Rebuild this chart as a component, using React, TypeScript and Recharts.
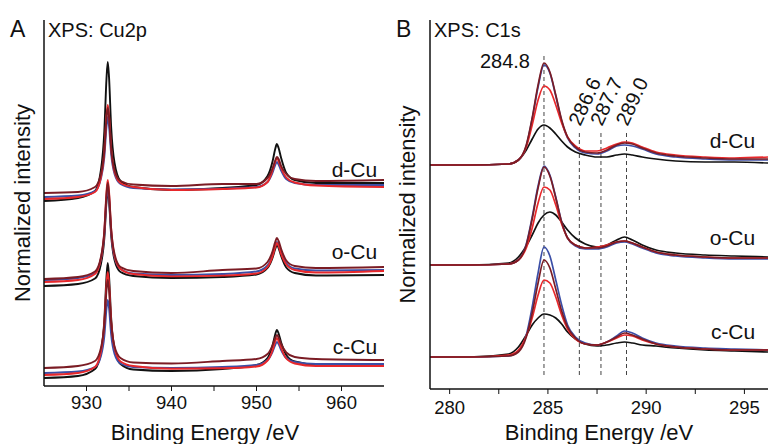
import React from 'react';
import { LineChart, Line, XAxis, YAxis, ReferenceLine, ReferenceDot } from 'recharts';

const FONT = '"Liberation Sans", Arial, Helvetica, sans-serif';
const INK = '#111';

const BLACK = '#111111';
const BLUE = '#3b4ea6';
const RED = '#e8282b';
const MAROON = '#7b1c24';

// ---- panel A: Cu 2p (binding energy in eV, intensity in a.u. with offsets) ----
const cu2pEnergy = [925, 929, 931, 931.7, 932.1, 932.35, 932.5, 932.65, 932.9, 933.3, 934, 935.5, 940, 946, 950, 951.3, 951.9, 952.2, 952.4, 952.6, 952.9, 953.5, 954.5, 957, 965];

const cu2pDBlack = [185, 188, 195, 216, 255, 307, 324, 309, 259, 223, 205, 199, 196, 198, 201, 210, 225, 237, 242, 238, 228, 213, 206, 203, 203];
const cu2pDBlue = [189, 190.5, 195, 207.5, 229, 259, 269, 260, 232, 212, 202, 198, 196.6, 197.4, 199, 204, 213.5, 221, 224, 221.5, 215.5, 207, 203, 201, 201];
const cu2pDRed = [187, 189, 194, 209, 234.5, 270, 281, 271, 238, 214, 203, 199, 196, 197, 198.5, 204, 216, 224, 228, 225, 218, 208.5, 203.5, 200.5, 199];
const cu2pDMaroon = [193, 194, 199, 212, 236, 268, 278, 269, 238, 216, 205, 201.5, 200, 202, 202, 208, 218, 225.5, 229, 227, 220, 212, 207, 205, 206];

const cu2pOBlack = [100, 102, 107.5, 122, 148, 184, 196, 185.5, 151, 126, 114, 110, 108, 109, 111.5, 118, 128.5, 137, 141, 138, 130, 118.5, 113, 110.5, 111];
const cu2pOBlue = [106, 108, 113, 127, 152, 187, 198, 187.5, 154, 129, 117, 112.5, 111, 112, 114.5, 120.5, 131.5, 140, 144, 141, 133.5, 123, 117.5, 115.5, 116];
const cu2pORed = [104, 106, 112, 127.5, 155, 194, 206, 194.5, 157.5, 130, 117, 112, 109.6, 110.4, 112.5, 119, 130, 139, 143, 140, 132, 121.5, 116, 113.5, 115];
const cu2pOMaroon = [107, 109, 114.5, 129, 155, 191, 203, 192, 157, 132, 119, 115, 113, 116, 117.5, 124, 135, 144, 148, 145, 137, 125.5, 120, 118, 119];

const cu2pCBlack = [8, 10, 17, 34, 66, 109, 123, 110, 68, 37, 22, 16.5, 15, 17, 21, 28, 41, 51.5, 56, 52.5, 43.5, 31, 24.5, 21.5, 22];
const cu2pCBlue = [13, 14.5, 19, 30, 50, 77, 86, 78, 51.5, 32, 22.5, 19, 18, 19, 21, 26, 34.5, 41, 44, 42, 36, 28, 24, 22, 22];
const cu2pCRed = [11, 13, 19, 34.5, 63, 101.5, 114, 102.5, 65, 38, 24.5, 20, 17.3, 17.7, 19.5, 25.5, 36, 44.5, 48, 45, 38, 27.5, 22.5, 20, 20];
const cu2pCMaroon = [18, 20, 25, 38, 62, 95.5, 106, 96, 63.5, 39.5, 28, 23.5, 22.5, 25, 27, 32, 41, 48, 51, 48.5, 42, 33.5, 29, 27, 26];

const cu2pTicks = [930, 935, 940, 945, 950, 955, 960];
const cu2pGroups = [
  { name: 'd-Cu', y: 209 },
  { name: 'o-Cu', y: 127 },
  { name: 'c-Cu', y: 32 },
];

// ---- panel B: C 1s ----
const c1sEnergy = [279, 281, 283, 283.5, 283.9, 284.2, 284.5, 284.8, 285.1, 285.4, 285.7, 286.0, 286.4, 286.9, 287.5, 288.0, 288.5, 288.9, 289.3, 289.8, 290.5, 291.5, 293, 294.5, 296.2];

const c1sDBlack = [224, 224, 225, 229, 239, 250, 260, 264, 261, 255, 248, 242, 237, 234, 232, 232, 234, 235, 234, 232, 230, 228, 227, 227, 226];
const c1sDBlue = [224, 224, 225, 229, 243, 270, 302, 324, 316, 293, 268, 251, 241, 236, 235, 238, 243, 244, 243, 240, 235, 232, 230, 229, 229];
const c1sDRed = [224, 224, 225, 229, 242, 264, 289, 303, 299, 284, 266, 252, 243, 238, 238, 241, 245, 247, 246, 242, 237, 234, 232, 231, 232];
const c1sDMaroon = [224, 224, 225, 229, 244, 271, 304, 326, 317, 294, 269, 252, 242, 237, 236, 239, 244, 246, 245, 241, 236, 233, 231, 230, 230];

const c1sOBlack = [124, 124, 126, 132, 143, 154, 166, 174, 177, 174, 167, 159, 151, 145, 142, 144, 149, 152, 149, 144, 139, 136, 134, 133, 132];
const c1sOBlue = [124, 124, 125, 129, 145, 172, 203, 223, 214, 192, 167, 151, 143, 140, 140, 142, 146, 147, 145, 141, 136, 133, 131, 130, 130];
const c1sORed = [124, 124, 125, 129, 141, 161, 186, 202, 199, 184, 165, 151, 144, 141, 142, 144, 147, 148, 146, 142, 137, 134, 132, 131, 131];
const c1sOMaroon = [124, 124, 125, 129, 144, 170, 201, 222, 213, 191, 167, 151, 144, 141, 141, 143, 147, 148, 146, 142, 137, 134, 132, 131, 131];

const c1sCBlack = [32, 32, 35, 42, 54, 64, 71, 75, 74, 71, 65, 57, 50, 45, 43, 44, 46, 47, 46, 44, 43, 41, 39, 38, 37];
const c1sCBlue = [32, 32, 33, 38, 54, 82, 116, 142, 133, 109, 84, 64, 52, 46, 44, 47, 53, 58, 56, 51, 46, 43, 41, 40, 39];
const c1sCRed = [32, 32, 34, 39, 53, 71, 94, 109, 106, 92, 74, 60, 50, 45, 44, 47, 51, 54, 53, 49, 45, 42, 40, 39, 39];
const c1sCMaroon = [32, 32, 33, 37, 52, 76, 106, 129, 121, 100, 78, 62, 51, 45, 44, 47, 52, 56, 54, 50, 45, 42, 40, 39, 39];

const c1sTicks = [280, 282.5, 285, 287.5, 290, 292.5, 295];
const c1sPeaks = [
  { e: 284.8, top: 336, label: '284.8' },
  { e: 286.6, top: 259, label: '286.6' },
  { e: 287.7, top: 259, label: '287.7' },
  { e: 289.0, top: 259, label: '289.0' },
];
const c1sGroups = [
  { name: 'd-Cu', y: 241 },
  { name: 'o-Cu', y: 144 },
  { name: 'c-Cu', y: 50 },
];

type Series = { key: string; values: number[]; color: string };

const cu2pSeries: Series[] = [
  { key: 'dBlack', values: cu2pDBlack, color: BLACK },
  { key: 'dBlue', values: cu2pDBlue, color: BLUE },
  { key: 'dRed', values: cu2pDRed, color: RED },
  { key: 'dMaroon', values: cu2pDMaroon, color: MAROON },
  { key: 'oBlack', values: cu2pOBlack, color: BLACK },
  { key: 'oBlue', values: cu2pOBlue, color: BLUE },
  { key: 'oRed', values: cu2pORed, color: RED },
  { key: 'oMaroon', values: cu2pOMaroon, color: MAROON },
  { key: 'cBlack', values: cu2pCBlack, color: BLACK },
  { key: 'cBlue', values: cu2pCBlue, color: BLUE },
  { key: 'cRed', values: cu2pCRed, color: RED },
  { key: 'cMaroon', values: cu2pCMaroon, color: MAROON },
];

const c1sSeries: Series[] = [
  { key: 'dBlack', values: c1sDBlack, color: BLACK },
  { key: 'dBlue', values: c1sDBlue, color: BLUE },
  { key: 'dRed', values: c1sDRed, color: RED },
  { key: 'dMaroon', values: c1sDMaroon, color: MAROON },
  { key: 'oBlack', values: c1sOBlack, color: BLACK },
  { key: 'oBlue', values: c1sOBlue, color: BLUE },
  { key: 'oRed', values: c1sORed, color: RED },
  { key: 'oMaroon', values: c1sOMaroon, color: MAROON },
  { key: 'cBlack', values: c1sCBlack, color: BLACK },
  { key: 'cBlue', values: c1sCBlue, color: BLUE },
  { key: 'cRed', values: c1sCRed, color: RED },
  { key: 'cMaroon', values: c1sCMaroon, color: MAROON },
];

const buildRows = (energy: number[], series: Series[]) =>
  energy.map((e, i) => {
    const row: Record<string, number> = { e };
    series.forEach(s => { row[s.key] = s.values[i]; });
    return row;
  });

const cu2pRows = buildRows(cu2pEnergy, cu2pSeries);
const c1sRows = buildRows(c1sEnergy, c1sSeries);

const GroupLabel = (props: any) => {
  const { viewBox, value } = props;
  return (
    <text x={viewBox.x} y={viewBox.y} textAnchor="end" fontSize={21} fontFamily={FONT} fill={INK}>
      {value}
    </text>
  );
};

const PeakLabel = (props: any) => {
  const { viewBox, value } = props;
  if (value === '284.8') {
    return (
      <text x={viewBox.x - 14} y={viewBox.y + 15} textAnchor="end" fontSize={20} fontFamily={FONT} fill={INK}>
        {value}
      </text>
    );
  }
  const x = viewBox.x + 1;
  const y = viewBox.y - 3;
  return (
    <text x={x} y={y} transform={`rotate(-65 ${x} ${y})`} fontSize={20} fontFamily={FONT} fill={INK}>
      {value}
    </text>
  );
};

const axisLine = { stroke: INK, strokeWidth: 1.5 };
const tickStyle = { fill: INK, fontSize: 18.5 };
const xTitleStyle = { fill: INK, fontSize: 22, textAnchor: 'middle' as const };
const yTitleStyle = { fill: INK, fontSize: 22, textAnchor: 'middle' as const };

export default function App() {
  return (
    <div style={{ position: 'absolute', left: 0, top: 0, width: 768, height: 444, background: '#fff', fontFamily: FONT }}>
      <div style={{ display: 'flex' }}>
        <LineChart width={384} height={444} data={cu2pRows} margin={{ top: 20, right: 0, bottom: 0, left: 0 }}>
          <XAxis
            type="number"
            dataKey="e"
            domain={[925, 965]}
            ticks={cu2pTicks}
            interval={0}
            tickFormatter={(v: number) => (v % 10 === 0 ? String(v) : '')}
            tick={tickStyle}
            tickSize={5}
            tickMargin={5}
            height={58}
            axisLine={axisLine}
            tickLine={{ stroke: INK }}
            label={{ value: 'Binding Energy /eV', position: 'insideBottom', offset: 4, dx: -9, style: xTitleStyle }}
          />
          <YAxis
            type="number"
            domain={[0, 366]}
            width={44}
            tick={false}
            tickLine={false}
            axisLine={axisLine}
            label={{ value: 'Normalized intensity', angle: -90, position: 'center', style: yTitleStyle }}
          />
          {cu2pSeries.map(s => (
            <Line key={s.key} type="monotone" dataKey={s.key} stroke={s.color} strokeWidth={1.9} dot={false} isAnimationActive={false} />
          ))}
          {cu2pGroups.map(g => (
            <ReferenceDot key={g.name} x={964.2} y={g.y} r={0} fill="none" stroke="none" label={{ value: g.name, content: GroupLabel }} />
          ))}
        </LineChart>
        <LineChart width={384} height={444} data={c1sRows} margin={{ top: 20, right: 0, bottom: 0, left: 0 }}>
          <XAxis
            type="number"
            dataKey="e"
            domain={[279, 296.2]}
            ticks={c1sTicks}
            interval={0}
            tickFormatter={(v: number) => (v % 5 === 0 ? String(v) : '')}
            tick={tickStyle}
            tickSize={5}
            tickMargin={7}
            height={55}
            axisLine={axisLine}
            tickLine={{ stroke: INK }}
            label={{ value: 'Binding Energy /eV', position: 'insideBottom', offset: 4, style: xTitleStyle }}
          />
          <YAxis
            type="number"
            domain={[0, 369]}
            width={46}
            tick={false}
            tickLine={false}
            axisLine={axisLine}
            label={{ value: 'Normalized intensity', angle: -90, position: 'center', style: yTitleStyle }}
          />
          {c1sPeaks.map(p => (
            <ReferenceLine
              key={p.label}
              segment={[{ x: p.e, y: 14 }, { x: p.e, y: p.top }]}
              stroke="#444"
              strokeWidth={1}
              strokeDasharray="4 3"
              label={{ value: p.label, content: PeakLabel }}
            />
          ))}
          {c1sSeries.map(s => (
            <Line key={s.key} type="monotone" dataKey={s.key} stroke={s.color} strokeWidth={1.7} dot={false} isAnimationActive={false} />
          ))}
          {c1sGroups.map(g => (
            <ReferenceDot key={g.name} x={295.55} y={g.y} r={0} fill="none" stroke="none" label={{ value: g.name, content: GroupLabel }} />
          ))}
        </LineChart>
      </div>
      <svg width={768} height={444} style={{ position: 'absolute', left: 0, top: 0, pointerEvents: 'none' }}>
        <text x={10} y={37} fontSize={23} fontFamily={FONT} fill={INK}>A</text>
        <text x={48} y={37} fontSize={20} fontFamily={FONT} fill={INK}>XPS: Cu2p</text>
        <text x={396} y={37} fontSize={23} fontFamily={FONT} fill={INK}>B</text>
        <text x={434} y={37} fontSize={20} fontFamily={FONT} fill={INK}>XPS: C1s</text>
      </svg>
    </div>
  );
}
